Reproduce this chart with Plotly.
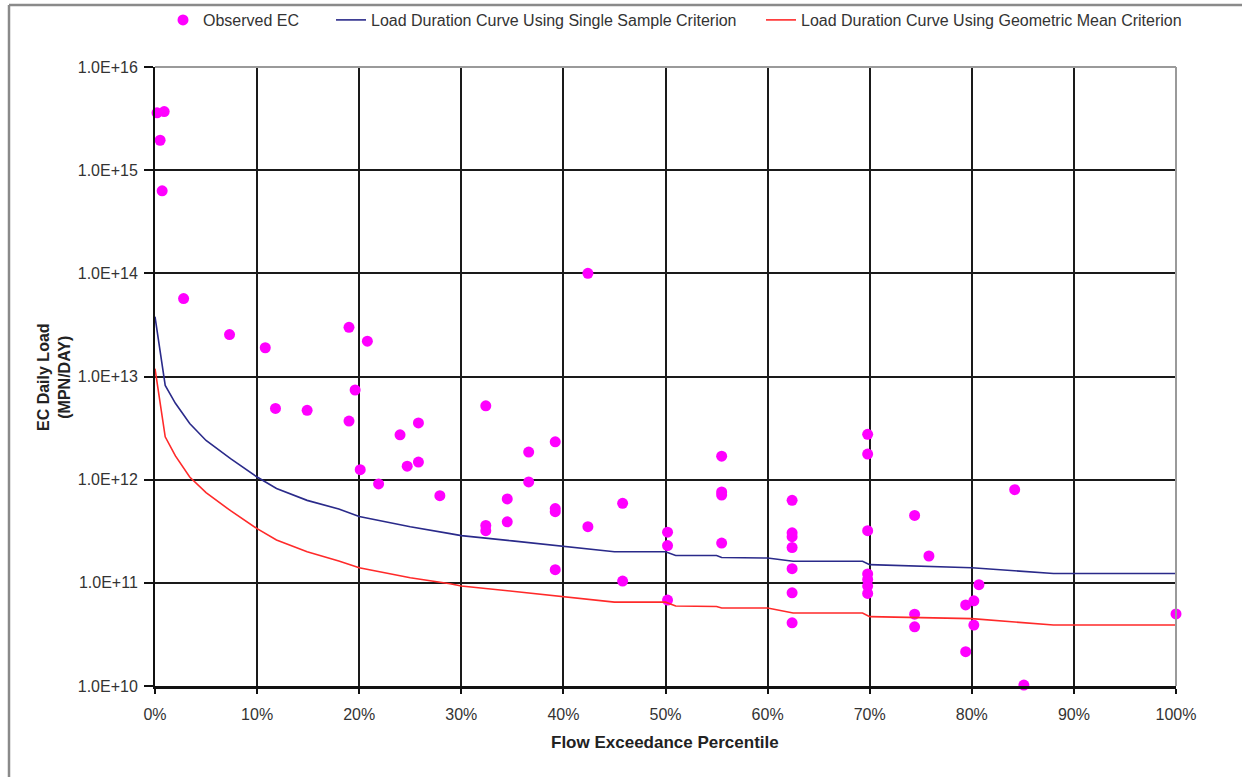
import plotly.graph_objects as go

# Observed E. coli loads: flow exceedance percentile (%) and daily load (MPN/day)
obs_pct = [0.2, 0.9, 0.5, 0.7, 2.8, 7.3, 10.8, 11.8, 14.9, 19.0, 20.8, 19.6, 19.0,
           20.1, 21.9, 24.0, 24.7, 25.8, 25.8, 27.9, 32.4, 32.4, 32.4, 34.5, 34.5,
           36.6, 36.6, 39.2, 39.2, 39.2, 39.2, 42.4, 42.4, 45.8, 45.8, 50.2, 50.2,
           50.2, 55.5, 55.5, 55.5, 55.5, 62.4, 62.4, 62.4, 62.4, 62.4, 62.4, 62.4,
           69.8, 69.8, 69.8, 69.8, 69.8, 69.8, 69.8, 74.4, 75.8, 74.4, 74.4, 84.2,
           80.7, 80.2, 79.4, 80.2, 79.4, 85.1, 100.0]
obs_load = [3.6e15, 3.7e15, 1.95e15, 6.3e14, 5.7e13, 2.55e13, 1.9e13, 4.9e12, 4.7e12,
            3.0e13, 2.2e13, 7.4e12, 3.7e12, 1.25e12, 9.1e11, 2.72e12, 1.35e12, 3.55e12,
            1.48e12, 7.0e11, 5.2e12, 3.6e11, 3.2e11, 6.5e11, 3.9e11, 1.85e12, 9.5e11,
            2.33e12, 5.25e11, 4.9e11, 1.34e11, 1.0e14, 3.5e11, 5.9e11, 1.04e11, 3.1e11,
            2.3e11, 6.8e10, 1.69e12, 7.6e11, 7.1e11, 2.43e11, 6.3e11, 3.05e11, 2.8e11,
            2.2e11, 1.37e11, 8.0e10, 4.1e10, 2.75e12, 1.77e12, 3.2e11, 1.22e11, 1.08e11,
            9.3e10, 7.9e10, 4.5e11, 1.82e11, 4.97e10, 3.75e10, 8.0e11, 9.6e10, 6.7e10,
            6.1e10, 3.9e10, 2.15e10, 1.02e10, 5.0e10]

# Load duration curves
ldc_pct = [0, 1.0, 2.0, 3.4, 5.0, 7.4, 10, 11.9, 14.9, 18, 20, 25, 28.9, 30, 35, 40,
           45, 50, 51, 55, 55.5, 60, 62.5, 69.3, 70, 80, 88, 100]
single_sample = [3.8e13, 8.2e12, 5.5e12, 3.5e12, 2.4e12, 1.6e12, 1.06e12, 8.2e11, 6.3e11,
                 5.2e11, 4.4e11, 3.5e11, 3.0e11, 2.87e11, 2.55e11, 2.25e11, 2.0e11, 2.0e11,
                 1.84e11, 1.84e11, 1.76e11, 1.74e11, 1.62e11, 1.62e11, 1.5e11, 1.4e11,
                 1.23e11, 1.23e11]
geo_mean = [1.19e13, 2.6e12, 1.7e12, 1.06e12, 7.5e11, 5.0e11, 3.35e11, 2.6e11, 2.0e11,
            1.63e11, 1.4e11, 1.12e11, 9.8e10, 9.3e10, 8.3e10, 7.4e10, 6.5e10, 6.5e10,
            5.96e10, 5.9e10, 5.7e10, 5.7e10, 5.1e10, 5.1e10, 4.7e10, 4.5e10, 3.9e10,
            3.9e10]

x_ticks = list(range(0, 101, 10))
x_tick_text = [f"{v}%" for v in x_ticks]
y_ticks = [1e10, 1e11, 1e12, 1e13, 1e14, 1e15, 1e16]
y_tick_text = ["1.0E+10", "1.0E+11", "1.0E+12", "1.0E+13", "1.0E+14", "1.0E+15", "1.0E+16"]

W, H = 1242, 777
L, R, T, B = 155, 66, 67, 91
pw, ph = W - L - R, H - T - B


def px_x(px):
    return (px - L) / pw


def px_y(py):
    return (H - B - py) / ph


FONT = "Liberation Sans, Arial, sans-serif"
LEG_FONT = dict(family=FONT, size=16, color="#333")


def legend_at(left_px):
    return dict(orientation="h", x=px_x(left_px), y=px_y(20), xanchor="left",
                yanchor="middle", font=LEG_FONT, bgcolor="rgba(0,0,0,0)")


fig = go.Figure()
fig.add_trace(go.Scatter(
    x=obs_pct, y=obs_load, mode="markers", name="Observed EC", legend="legend",
    marker=dict(color="#FF00FF", size=11, line=dict(width=0)),
    cliponaxis=False,
))
fig.add_trace(go.Scatter(
    x=ldc_pct, y=single_sample, mode="lines", legend="legend2",
    name="Load Duration Curve Using Single Sample Criterion",
    line=dict(color="#2A2A8A", width=1.6),
))
fig.add_trace(go.Scatter(
    x=ldc_pct, y=geo_mean, mode="lines", legend="legend3",
    name="Load Duration Curve Using Geometric Mean Criterion",
    line=dict(color="#FF2A2A", width=1.6),
))

fig.update_layout(
    width=W, height=H,
    margin=dict(l=L, r=R, t=T, b=B, autoexpand=False),
    paper_bgcolor="white", plot_bgcolor="white",
    font=dict(family=FONT, size=14, color="#222"),
    showlegend=True,
    legend=legend_at(163),
    legend2=legend_at(331),
    legend3=legend_at(761),
    xaxis=dict(
        range=[0, 100], tickvals=x_ticks, ticktext=x_tick_text,
        showgrid=True, gridcolor="#1a1a1a", gridwidth=1.6,
        showline=True, linecolor="#111", linewidth=2.5,
        ticks="outside", ticklen=5, tickwidth=2, tickcolor="#111",
        tickfont=dict(size=16, color="#333"), ticklabelstandoff=7,
        zeroline=False, fixedrange=True,
    ),
    yaxis=dict(
        type="log", range=[10, 16], tickvals=y_ticks, ticktext=y_tick_text,
        showgrid=True, gridcolor="#1a1a1a", gridwidth=1.6,
        showline=True, linecolor="#111", linewidth=2,
        ticks="outside", ticklen=9, tickwidth=1.5, tickcolor="#111",
        tickfont=dict(size=16, color="#333"), ticklabelstandoff=3,
        zeroline=False, fixedrange=True,
    ),
    annotations=[
        dict(text="<b>EC Daily Load<br>(MPN/DAY)</b>", xref="paper", yref="paper",
             x=px_x(54), y=px_y(377), xanchor="center", yanchor="middle",
             textangle=-90, showarrow=False, font=dict(size=16, color="#222")),
        dict(text="<b>Flow Exceedance Percentile</b>", xref="paper", yref="paper",
             x=px_x(665), y=px_y(742), xanchor="center", yanchor="middle",
             showarrow=False, font=dict(size=17, color="#222")),
    ],
    shapes=[
        # top and right edges of the plotting area
        dict(type="line", xref="paper", yref="paper", x0=0, x1=1, y0=1, y1=1,
             line=dict(color="#9a9a9a", width=2), layer="above"),
        dict(type="line", xref="paper", yref="paper", x0=1, x1=1, y0=0, y1=1,
             line=dict(color="#9a9a9a", width=2), layer="above"),
        # outer chart frame
        dict(type="line", xref="paper", yref="paper", x0=px_x(9), x1=px_x(W + 5),
             y0=px_y(5), y1=px_y(5), line=dict(color="#8a8a8a", width=2.5)),
        dict(type="line", xref="paper", yref="paper", x0=px_x(9), x1=px_x(9),
             y0=px_y(5), y1=px_y(H + 5), line=dict(color="#8a8a8a", width=2.5)),
    ],
)

fig.write_html("out.html")
